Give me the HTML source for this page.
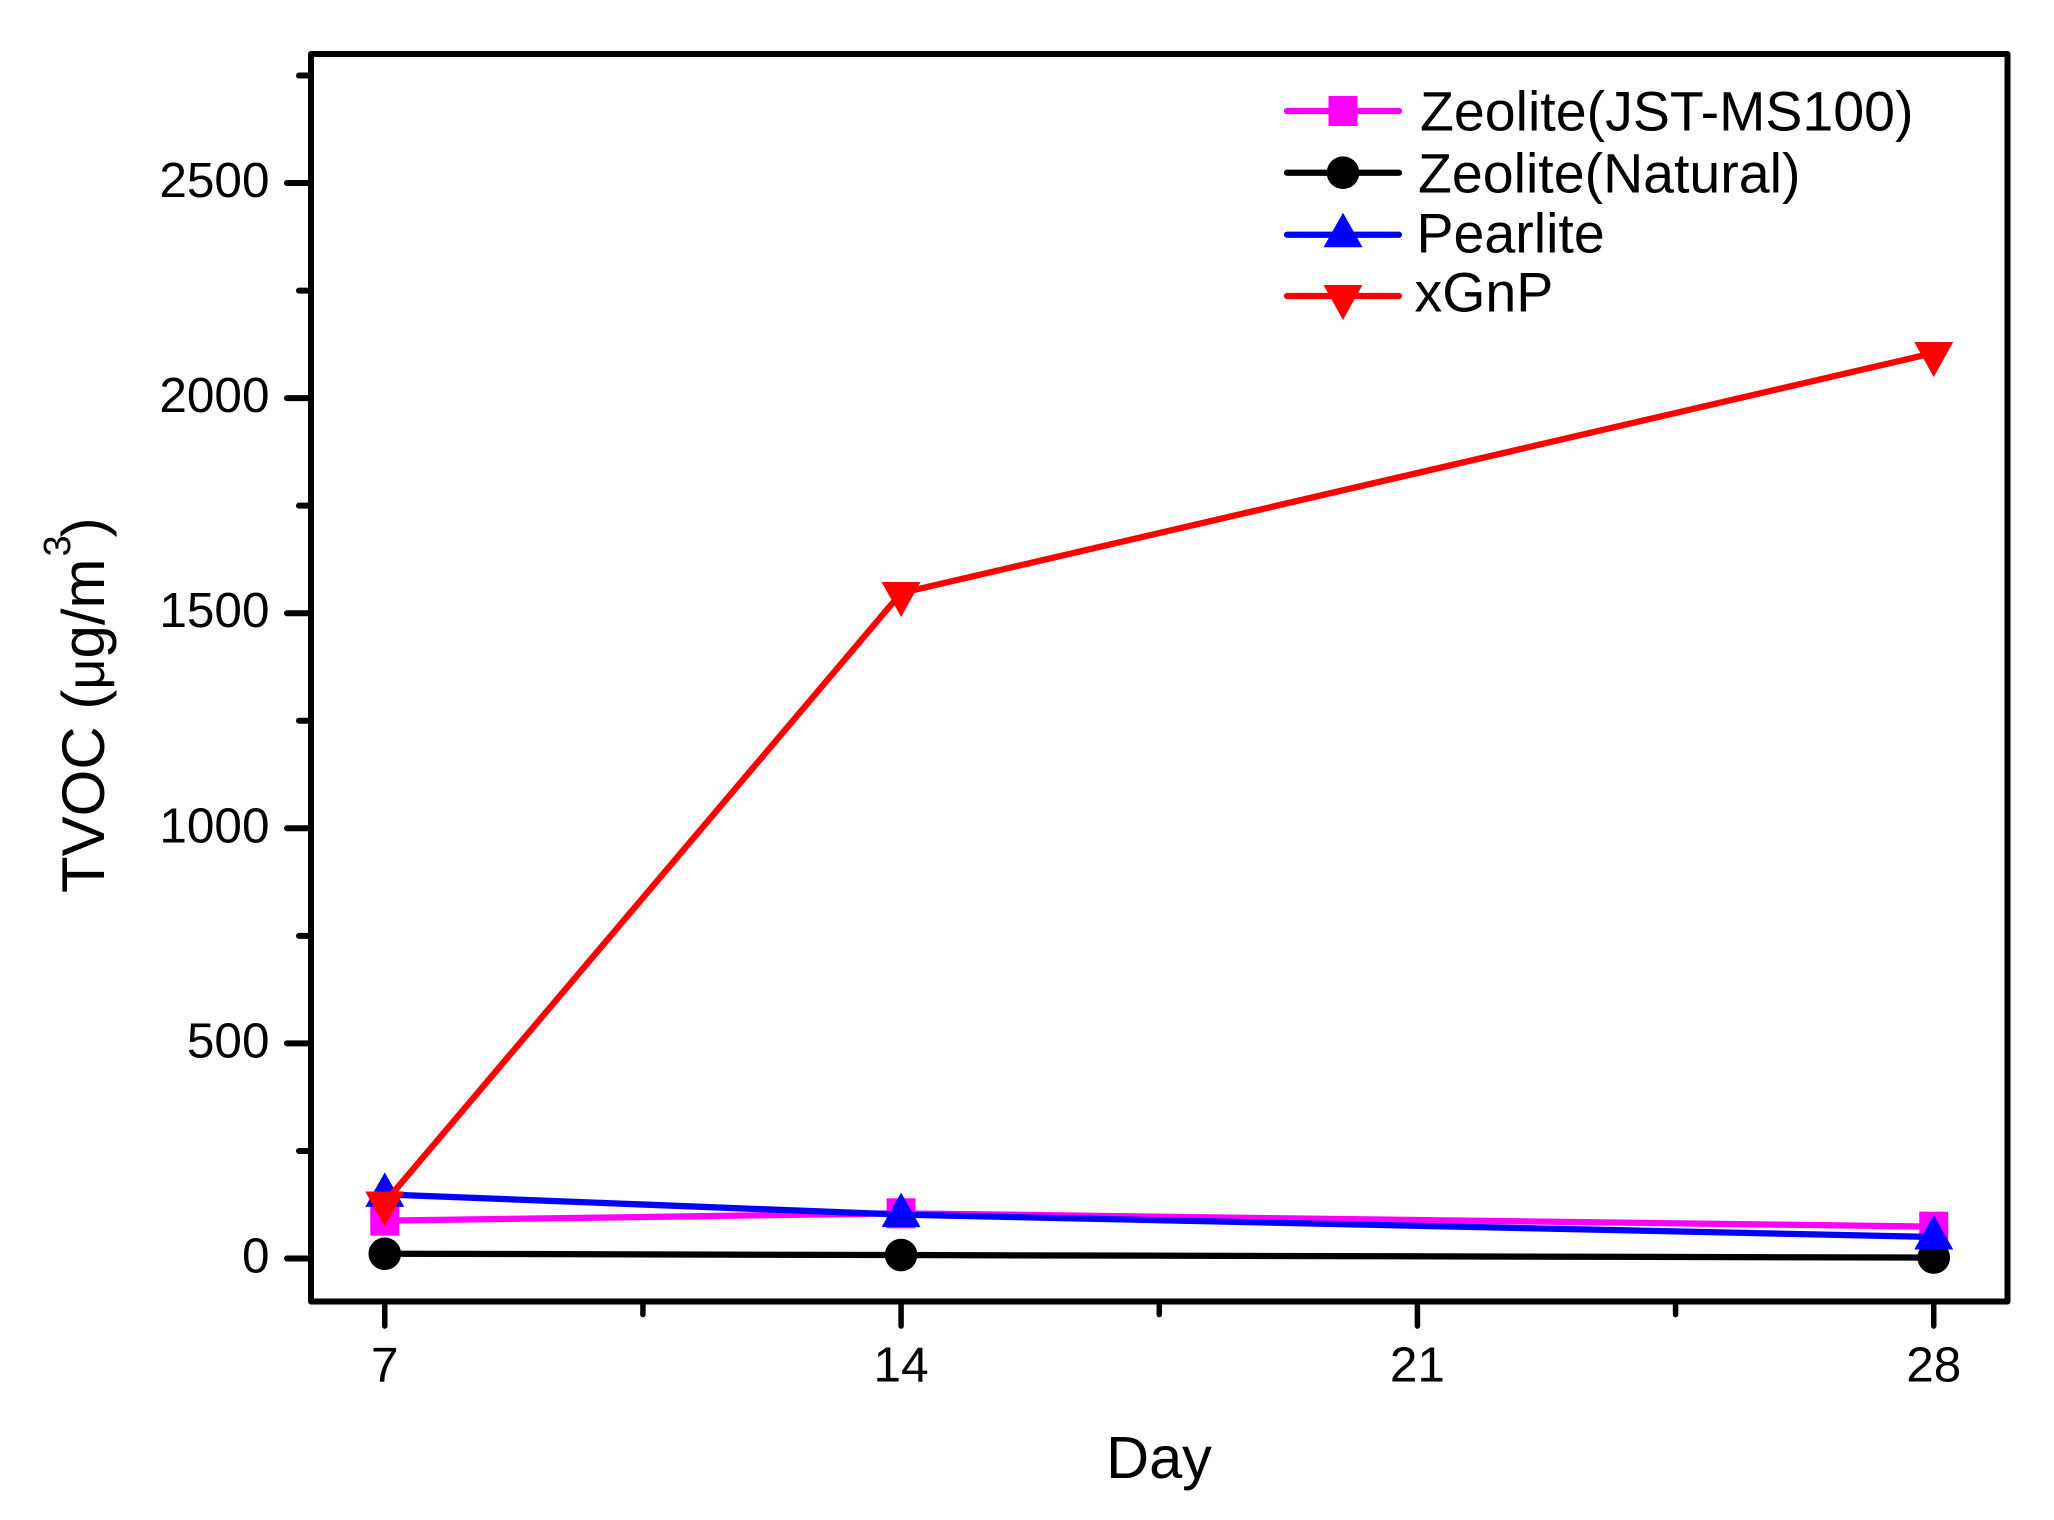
<!DOCTYPE html>
<html lang="en">
<head>
<meta charset="utf-8">
<title>TVOC by Day</title>
<style>
html,body{margin:0;padding:0;background:#fff;}
svg{display:block;}
text{font-family:"Liberation Sans",Arial,sans-serif;fill:#000;}
</style>
</head>
<body>
<svg id="chart" xmlns="http://www.w3.org/2000/svg" width="2054" height="1520" viewBox="0 0 2054 1520">
  <rect x="0" y="0" width="2054" height="1520" fill="#fff"/>
  <g id="ticks"></g>
  <g id="series"></g>
  <rect x="311" y="54" width="1696.5" height="1247.5" fill="none" stroke="#000" stroke-width="6" stroke-linejoin="round"/>
  <g id="legend"></g>
  <text x="1159" y="1478" font-size="59.5" text-anchor="middle">Day</text>
  <text transform="translate(104,893) rotate(-90)" font-size="60" xml:space="preserve">TVOC (<tspan font-size="54">μ</tspan>g/m<tspan font-size="38" dy="-34" dx="2">3</tspan><tspan dy="34" dx="-2">)</tspan></text>
</svg>
<script>
const days = [7, 14, 28];
const seriesNames = ["Zeolite(JST-MS100)", "Zeolite(Natural)", "Pearlite", "xGnP"];
const seriesColors = ["#ff00ff", "#000000", "#0000ff", "#ff0000"];
const seriesMarkers = ["square", "circle", "up", "down"];
const zeoliteJst = [88, 105, 74];
const zeoliteNatural = [11, 8, 2];
const pearlite = [149, 102, 50];
const xgnp = [130, 1547, 2105];
const xMajorTicks = [7, 14, 21, 28];
const xMinorTicks = [10.5, 17.5, 24.5];
const yMajorTicks = [0, 500, 1000, 1500, 2000, 2500];
const yMinorTicks = [250, 750, 1250, 1750, 2250, 2750];
const xDomain = [6, 29];
const yDomain = [-100, 2800];

const allSeries = [zeoliteJst, zeoliteNatural, pearlite, xgnp];
const NS = 'http://www.w3.org/2000/svg';
const plot = {left: 311, right: 2007.5, top: 54, bottom: 1301.5};
function xScale(v) { return plot.left + (v - xDomain[0]) / (xDomain[1] - xDomain[0]) * (plot.right - plot.left); }
function yScale(v) { return plot.bottom - (v - yDomain[0]) / (yDomain[1] - yDomain[0]) * (plot.bottom - plot.top); }
function mk(tag, attrs, parent) {
  const el = document.createElementNS(NS, tag);
  for (const k in attrs) el.setAttribute(k, attrs[k]);
  parent.appendChild(el);
  return el;
}
function drawMarker(kind, cx, cy, color, parent, name) {
  let el;
  if (kind === 'square') {
    el = mk('rect', {x: cx - 14.5, y: cy - 15, width: 29, height: 30, fill: color}, parent);
  } else if (kind === 'circle') {
    el = mk('ellipse', {cx: cx, cy: cy, rx: 16.3, ry: 16.3, fill: color}, parent);
  } else if (kind === 'up') {
    el = mk('polygon', {points: [cx, cy - 22, cx + 19.5, cy + 12.5, cx - 19.5, cy + 12.5].join(' '), fill: color}, parent);
  } else {
    el = mk('polygon', {points: [cx - 19.5, cy - 11, cx + 19.5, cy - 11, cx, cy + 24].join(' '), fill: color}, parent);
  }
  
  
  return el;
}

const ticksG = document.getElementById('ticks');
yMajorTicks.forEach(function (v) {
  const y = yScale(v);
  const t = mk('line', {x1: 287, x2: 311, y1: y, y2: y, stroke: '#000', 'stroke-width': 6, 'stroke-linecap': 'round'}, ticksG);
  
  
  const l = mk('text', {x: 269.5, y: y + 14, 'font-size': 49.5, 'text-anchor': 'end'}, ticksG);
  l.textContent = String(v);
  
  
});
yMinorTicks.forEach(function (v) {
  const y = yScale(v);
  const t = mk('line', {x1: 299, x2: 311, y1: y, y2: y, stroke: '#000', 'stroke-width': 6, 'stroke-linecap': 'round'}, ticksG);
  
  
});
xMajorTicks.forEach(function (v) {
  const x = xScale(v);
  const t = mk('line', {x1: x, x2: x, y1: 1301.5, y2: 1326, stroke: '#000', 'stroke-width': 5.5, 'stroke-linecap': 'round'}, ticksG);
  
  
  const l = mk('text', {x: x, y: 1381.5, 'font-size': 49.5, 'text-anchor': 'middle'}, ticksG);
  l.textContent = String(v);
  
  
});
xMinorTicks.forEach(function (v) {
  const x = xScale(v);
  const t = mk('line', {x1: x, x2: x, y1: 1301.5, y2: 1314.5, stroke: '#000', 'stroke-width': 5.5, 'stroke-linecap': 'round'}, ticksG);
  
  
});

const seriesG = document.getElementById('series');
allSeries.forEach(function (vals, i) {
  const g = mk('g', {}, seriesG);
  
  
  const pts = vals.map(function (v, j) { return xScale(days[j]) + ',' + yScale(v); }).join(' ');
  const line = mk('polyline', {points: pts, fill: 'none', stroke: seriesColors[i], 'stroke-width': 6.25, 'stroke-linejoin': 'round'}, g);
  
  
  vals.forEach(function (v, j) {
    drawMarker(seriesMarkers[i], xScale(days[j]), yScale(v), seriesColors[i], g, 'data-point');
  });
});

const legendG = document.getElementById('legend');
const legendLineY = [111, 172.7, 234.7, 296];
const legendBaseY = [130.7, 192.7, 252.3, 311.7];
const legendTextX = [1420, 1418, 1416.5, 1414.5];
seriesNames.forEach(function (name, i) {
  const g = mk('g', {}, legendG);
  
  
  const ln = mk('line', {x1: 1295 - 8, x2: 1399, y1: legendLineY[i], y2: legendLineY[i], stroke: seriesColors[i], 'stroke-width': 6.25, 'stroke-linecap': 'round'}, g);
  
  
  drawMarker(seriesMarkers[i], 1343, legendLineY[i], seriesColors[i], g, 'legend-marker');
  const t = mk('text', {x: legendTextX[i], y: legendBaseY[i], 'font-size': 55.5}, g);
  t.textContent = name;
  
  
});
</script>
</body>
</html>
